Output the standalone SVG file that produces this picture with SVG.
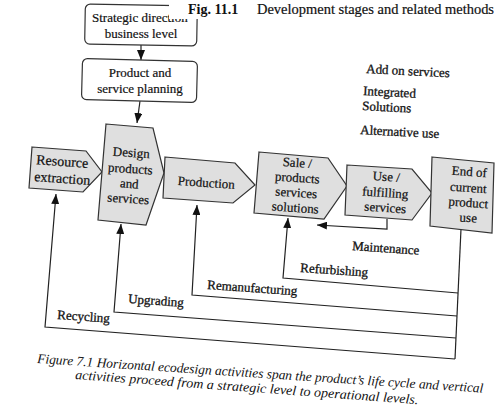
<svg xmlns="http://www.w3.org/2000/svg" width="495" height="414" viewBox="0 0 495 414">
<style>
.bg{fill:#ffffff}
.box{fill:#dfdfdf;stroke:#333333;stroke-width:1.2;stroke-linejoin:miter}
.rbox{fill:#ffffff;stroke:#333333;stroke-width:1.2}
.t{font-family:"Liberation Serif","Times New Roman",serif;font-size:13px;fill:#111111;stroke:#111111;stroke-width:0.2;text-anchor:middle}
.lbl{font-family:"Liberation Serif","Times New Roman",serif;font-size:13px;fill:#111111;stroke:#111111;stroke-width:0.3}
.cap{font-family:"Liberation Serif","Times New Roman",serif;font-size:13.5px;font-style:italic;fill:#111111}
.ln{fill:none;stroke:#222222;stroke-width:1.2}
</style>
<defs>
<marker id="ah" viewBox="0 0 10 8" refX="10" refY="4" markerWidth="10" markerHeight="8" markerUnits="userSpaceOnUse" orient="auto">
<path d="M0,0 L10,4 L0,8 z" fill="#111111"/>
</marker>
</defs>
<rect class="bg" x="0" y="0" width="495" height="414"/>

<g id="connectors">
<path class="ln" d="M141,45 L141,60" marker-end="url(#ah)"/>
<path class="ln" d="M140,101 L137,123" marker-end="url(#ah)"/>
<path class="ln" d="M387,219 L387,229 L317,225" marker-end="url(#ah)"/>
<path class="ln" d="M461,229 L455,359"/>
<path class="ln" d="M458,293 L283,278 L288,218" marker-end="url(#ah)"/>
<path class="ln" d="M457,316 L192,295 L197,205" marker-end="url(#ah)"/>
<path class="ln" d="M456,338 L114,312 L121,224" marker-end="url(#ah)"/>
<path class="ln" d="M455,359 L45,327 L56,194" marker-end="url(#ah)"/>
</g>

<g id="strategic">
<rect class="rbox" x="85" y="5" width="112" height="40" rx="5" transform="rotate(1 141 25)"/>
<text class="t" x="92" y="22" style="text-anchor:start">Strategic direction</text>
<text class="t" x="141" y="38">business level</text>
</g>

<g id="header">
<rect x="169" y="0" width="326" height="19" fill="#ffffff"/>
<text x="188" y="14" style="font-family:'Liberation Serif','Times New Roman',serif;font-size:14px;font-weight:bold;fill:#111">Fig. 11.1</text>
<text x="257" y="14" textLength="237" lengthAdjust="spacingAndGlyphs" style="font-family:'Liberation Serif','Times New Roman',serif;font-size:14px;fill:#111;stroke:#111;stroke-width:0.2">Development stages and related methods</text>
</g>

<g id="planning">
<rect class="rbox" x="82" y="60" width="115" height="41" rx="5" transform="rotate(1.5 139 80)"/>
<text class="t" x="140" y="77">Product and</text>
<text class="t" x="140" y="93">service planning</text>
</g>

<g id="resource">
<polygon class="box" points="32,147 86,151 102,172 83,192 29,188"/>
<text class="t" x="62" y="166" style="font-size:14px" transform="rotate(4 62 166)">Resource</text>
<text class="t" x="62" y="183" style="font-size:14px" transform="rotate(4 62 183)">extraction</text>
</g>

<g id="design">
<polygon class="box" points="106,124 153,128 164,173 146,225 98,220"/>
<text class="t" x="131" y="157" transform="rotate(4 131 157)">Design</text>
<text class="t" x="130" y="173" transform="rotate(4 130 173)">products</text>
<text class="t" x="129" y="188" transform="rotate(4 129 188)">and</text>
<text class="t" x="128" y="203" transform="rotate(4 128 203)">services</text>
</g>

<g id="production">
<polygon class="box" points="165,157 235,163 255,185 233,203 163,198"/>
<text class="t" x="206" y="187" transform="rotate(4 206 187)">Production</text>
</g>

<g id="sale">
<polygon class="box" points="259,152 328,158 347,186 324,219 254,213"/>
<text class="t" x="297" y="167" transform="rotate(4 297 167)">Sale /</text>
<text class="t" x="297" y="182" transform="rotate(4 297 182)">products</text>
<text class="t" x="296" y="197" transform="rotate(4 296 197)">services</text>
<text class="t" x="295" y="212" transform="rotate(4 295 212)">solutions</text>
</g>

<g id="use">
<polygon class="box" points="347,165 412,169 432,193 412,220 345,215"/>
<text class="t" x="386" y="181" transform="rotate(4 386 181)">Use /</text>
<text class="t" x="385" y="197" transform="rotate(4 385 197)">fulfilling</text>
<text class="t" x="385" y="212" transform="rotate(4 385 212)">services</text>
</g>

<g id="end">
<polygon class="box" points="432,157 494,163 492,233 430,226"/>
<text class="t" x="469" y="176" transform="rotate(4 469 176)">End of</text>
<text class="t" x="468" y="192" transform="rotate(4 468 192)">current</text>
<text class="t" x="468" y="207" transform="rotate(4 468 207)">product</text>
<text class="t" x="468" y="222" transform="rotate(4 468 222)">use</text>
</g>

<g id="methods">
<text class="lbl" x="366" y="73" transform="rotate(3 366 73)">Add on services</text>
<text class="lbl" x="363" y="95" transform="rotate(3 363 95)">Integrated</text>
<text class="lbl" x="362" y="110" transform="rotate(3 362 110)">Solutions</text>
<text class="lbl" x="360" y="134" transform="rotate(3 360 134)">Alternative use</text>
</g>

<g id="labels">
<text class="lbl" x="352" y="250" transform="rotate(4 352 250)">Maintenance</text>
<text class="lbl" x="300" y="272" transform="rotate(4 300 272)">Refurbishing</text>
<text class="lbl" x="207" y="289" transform="rotate(4 207 289)">Remanufacturing</text>
<text class="lbl" x="128" y="303" transform="rotate(4 128 303)">Upgrading</text>
<text class="lbl" x="57" y="319" transform="rotate(4 57 319)">Recycling</text>
</g>

<g id="caption">
<text class="cap" x="37" y="363" textLength="447" lengthAdjust="spacingAndGlyphs" transform="rotate(3.8 37 363)">Figure 7.1 Horizontal ecodesign activities span the product’s life cycle and vertical</text>
<text class="cap" x="75" y="379" textLength="344" lengthAdjust="spacingAndGlyphs" transform="rotate(4.2 75 379)">activities proceed from a strategic level to operational levels.</text>
</g>
</svg>
